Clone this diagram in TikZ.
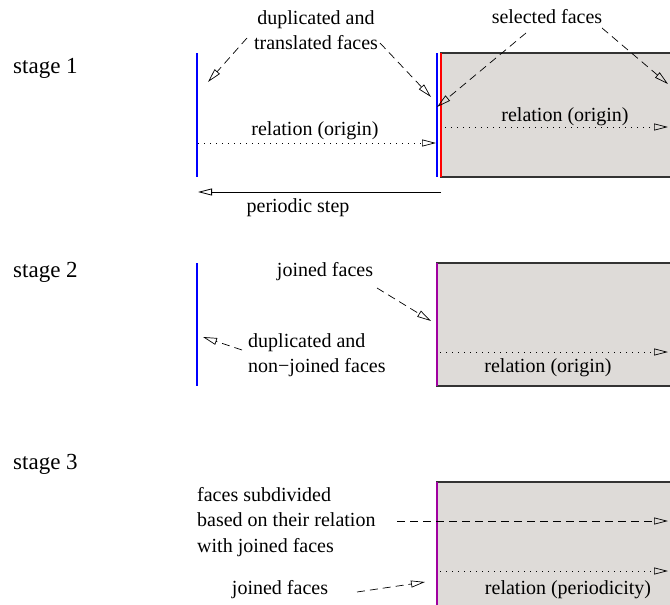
\documentclass[tikz,border=0pt]{standalone}
\usepackage{fontspec}
\setmainfont{Liberation Serif}
\usetikzlibrary{arrows.meta}
\definecolor{facegray}{RGB}{222,219,216}
\definecolor{joinpurple}{RGB}{160,0,160}

\begin{document}
\begin{tikzpicture}[x=1pt,y=-1pt,
                       stage node/.style={anchor=base west,inner sep=0pt,
                                          font=\fontsize{23}{27}\selectfont},
                       text node/.style={inner sep=0pt,
                                         font=\fontsize{20}{25.5}\selectfont},
                       cell box/.style={fill=facegray,draw=black!80,line width=1.2pt},
                       face line/.style={line width=1.8pt},
                       note arrow/.style={-{Triangle[open,length=14pt,width=7pt]},
                                          dash pattern=on 8pt off 5pt,line width=0.7pt},
                       rel arrow/.style={-{Triangle[open,length=14pt,width=7pt]},
                                         dash pattern=on 1pt off 5pt,line width=0.7pt},
                       period arrow/.style={-{Triangle[open,length=14pt,width=7pt]},
                                            line width=0.8pt}
                           ]
   \useasboundingbox (0,0) rectangle (670,605);
   \clip (0,0) rectangle (670,605);

   % stage 1
   \node[stage node] (st1) at (13,73) {stage 1};
   \draw[cell box] (441,53) rectangle (700,177);
   \draw[face line,blue] (197,53) -- (197,177);
   \draw[face line,blue] (437,53) -- (437,177);
   \draw[face line,red] (441,53) -- (441,177);
   \node[text node,align=center] (dup1) at (316,30) {duplicated and\\translated faces};
   \node[text node] (sel1) at (547,17) {selected faces};
   \node[text node] (rel1a) at (315,131) {relation (origin)};
   \node[text node] (rel1b) at (565,117) {relation (origin)};
   \node[text node] (per1) at (298,208) {periodic step};
   \coordinate (d1a) at (247,38);  \coordinate (t1a) at (208,82);
   \coordinate (d1b) at (380,43);  \coordinate (t1b) at (431,97);
   \coordinate (s1a) at (526,33);  \coordinate (u1a) at (437,107);
   \coordinate (s1b) at (602,28);  \coordinate (u1b) at (668,84);
   \coordinate (r1a) at (198,143); \coordinate (q1a) at (436,143);
   \coordinate (r1b) at (445,127); \coordinate (q1b) at (668,127);
   \coordinate (p1a) at (441,192); \coordinate (p1b) at (198,192);
   \path%
    (d1a) edge [note arrow] (t1a)
    (d1b) edge [note arrow] (t1b)
    (s1a) edge [note arrow] (u1a)
    (s1b) edge [note arrow] (u1b)
    (r1a) edge [rel arrow] (q1a)
    (r1b) edge [rel arrow] (q1b)
    (p1a) edge [period arrow] (p1b);

   % stage 2
   \node[stage node] (st2) at (13,277) {stage 2};
   \draw[cell box] (437,263) rectangle (700,386);
   \draw[face line,blue] (197,263) -- (197,386);
   \draw[face line,joinpurple] (437,263) -- (437,386);
   \node[text node] (join2) at (325,272) {joined faces};
   \node[text node,align=left,anchor=west] (dup2) at (248,355) {duplicated and\\non\textminus joined faces};
   \node[text node] (rel2) at (548,368) {relation (origin)};
   \coordinate (j2a) at (377,288); \coordinate (k2a) at (431,321);
   \coordinate (d2a) at (242,350); \coordinate (t2a) at (203,337);
   \coordinate (r2a) at (440,352); \coordinate (q2a) at (668,352);
   \path%
    (j2a) edge [note arrow] (k2a)
    (d2a) edge [note arrow] (t2a)
    (r2a) edge [rel arrow] (q2a);

   % stage 3
   \node[stage node] (st3) at (13,469) {stage 3};
   \draw[cell box] (437,482) rectangle (700,620);
   \draw[face line,joinpurple] (437,482) -- (437,620);
   \node[text node,align=left,anchor=west] (sub3) at (197,522) {faces subdivided\\based on their relation\\with joined faces};
   \node[text node] (join3) at (280,590) {joined faces};
   \node[text node] (rel3) at (568,590) {relation (periodicity)};
   \coordinate (b3a) at (397,521); \coordinate (c3a) at (668,521);
   \coordinate (j3a) at (357,592); \coordinate (k3a) at (425,582);
   \coordinate (r3a) at (440,571); \coordinate (q3a) at (668,571);
   \path%
    (b3a) edge [note arrow] (c3a)
    (j3a) edge [note arrow] (k3a)
    (r3a) edge [rel arrow] (q3a);
      \end{tikzpicture}
\end{document}
